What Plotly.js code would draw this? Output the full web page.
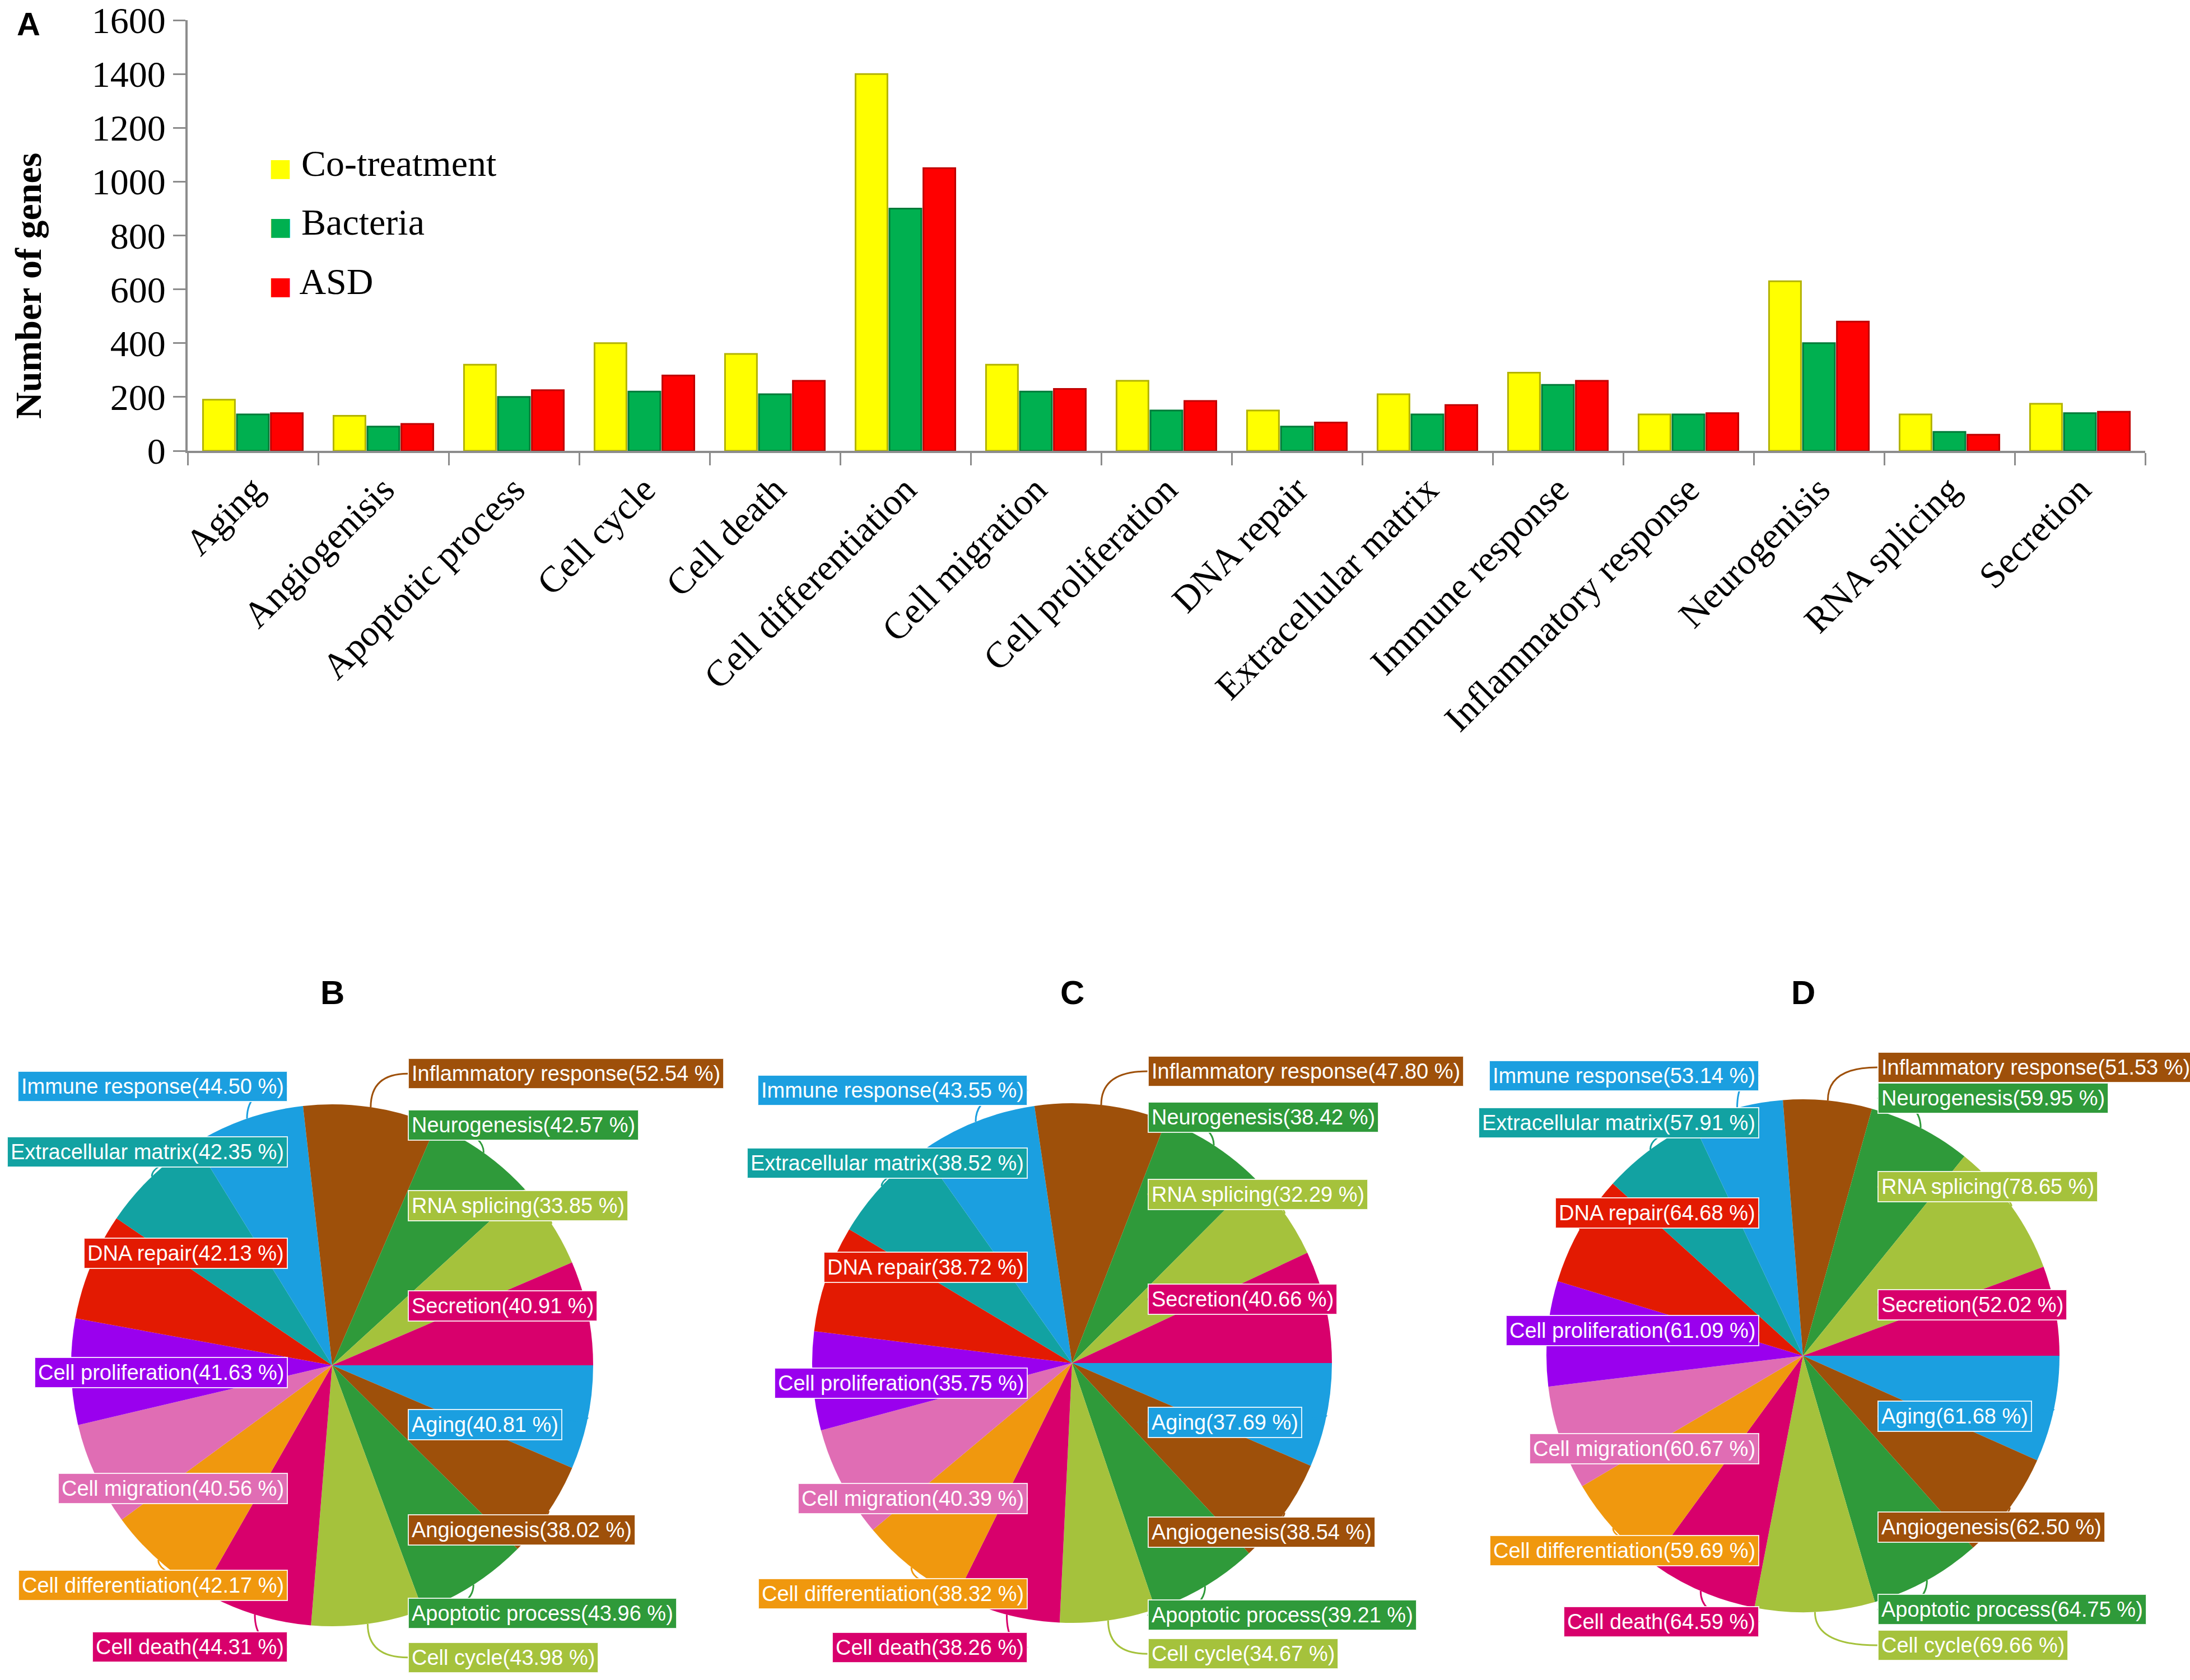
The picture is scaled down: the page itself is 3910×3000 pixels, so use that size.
<!DOCTYPE html>
<html><head><meta charset="utf-8">
<script src="https://cdn.plot.ly/plotly-3.0.1.min.js"></script>
<style>html,body{margin:0;padding:0;background:#fff}#chart{width:3910px;height:3000px}</style>
</head><body><div id="chart"></div>
<script>
// ---------- data ----------
const barCategories = ["Aging","Angiogenisis","Apoptotic process","Cell cycle","Cell death","Cell differentiation","Cell migration","Cell proliferation","DNA repair","Extracellular matrix","Immune response","Inflammatory response","Neurogenisis","RNA splicing","Secretion"];
const coTreatment = [190,130,320,400,360,1400,320,260,150,210,290,135,630,135,175];
const bacteria    = [135, 90,200,220,210, 900,220,150, 90,135,245,135,400, 70,140];
const asd         = [140,100,225,280,260,1050,230,185,105,170,260,140,480, 60,145];
const seriesNames = ["Co-treatment","Bacteria","ASD"];
const yTickVals = [0,200,400,600,800,1000,1200,1400,1600];
const yAxisTitle = "Number of genes";

const pieLabels = ["Aging","Angiogenesis","Apoptotic process","Cell cycle","Cell death","Cell differentiation","Cell migration","Cell proliferation","DNA repair","Extracellular matrix","Immune response","Inflammatory response","Neurogenesis","RNA splicing","Secretion"];
const pieB = [40.81,38.02,43.96,43.98,44.31,42.17,40.56,41.63,42.13,42.35,44.50,52.54,42.57,33.85,40.91];
const pieC = [37.69,38.54,39.21,34.67,38.26,38.32,40.39,35.75,38.72,38.52,43.55,47.80,38.42,32.29,40.66];
const pieD = [61.68,62.50,64.75,69.66,64.59,59.69,60.67,61.09,64.68,57.91,53.14,51.53,59.95,78.65,52.02];
const pieTitles = ["B","C","D"];

// ---------- styles / positions ----------
const W = 3910, H = 3000;
const serif = "Liberation Serif, 'Times New Roman', serif";
const sans = "Liberation Sans, Arial, sans-serif";
const barColors = ["#ffff00","#00b050","#ff0000"];
const barEdges = ["#b3b300","#007a38","#c00000"];
const pieColors = ["#1b9fe0","#9e500a","#2f9a3a","#a5c23c","#d8006c","#f0980e","#e06db4","#9a00ee","#e31a02","#12a2a2",
                   "#1b9fe0","#9e500a","#2f9a3a","#a5c23c","#d8006c"];
const piePanels = [
  {values: pieB, cx: 593,  cy: 2438, R: 466},
  {values: pieC, cx: 1914, cy: 2434, R: 464},
  {values: pieD, cx: 3219, cy: 2421, R: 458}
];
const legendPos = {x: 478, y0: 292, dy: 105};
const px = x => x / W, py = y => 1 - y / H;

const traces = [];
[coTreatment, bacteria, asd].forEach((vals, k) => {
  traces.push({
    type: 'bar', name: seriesNames[k], x: barCategories, y: vals,
    marker: {color: barColors[k], line: {color: barEdges[k], width: 3}},
    xaxis: 'x', yaxis: 'y', showlegend: false
  });
});

const annotations = [];
const shapes = [];

// legend (colour squares + names)
seriesNames.forEach((n, k) => {
  annotations.push({xref: 'paper', yref: 'paper', x: px(legendPos.x), y: py(legendPos.y0 + k * legendPos.dy),
    xanchor: 'left', yanchor: 'middle', showarrow: false,
    text: `<span style="color:${barColors[k]};font-family:DejaVu Sans;font-size:44px">■</span> ${n}`,
    font: {family: serif, size: 66, color: '#000'}});
});

piePanels.forEach((p, k) => {
  traces.push({
    type: 'pie', labels: pieLabels, values: p.values, sort: false,
    direction: 'clockwise', rotation: 90, textinfo: 'none', showlegend: false,
    marker: {colors: pieColors, line: {width: 0}},
    domain: {x: [px(p.cx - p.R), px(p.cx + p.R)], y: [py(p.cy + p.R), py(p.cy - p.R)]},
    hoverinfo: 'label+value'
  });
  const total = p.values.reduce((a, b) => a + b, 0);
  let cum = 0;
  p.values.forEach((v, i) => {
    const th = 2 * Math.PI * (cum + v / 2) / total; cum += v;
    const c = Math.cos(th), s = Math.sin(th);
    const ex = p.cx + p.R * c, ey = p.cy + p.R * s;
    const ly = p.cy + 1.13 * p.R * s;
    const right = c >= 0;
    const lx = right ? p.cx + 0.29 * p.R : p.cx - 0.17 * p.R;
    shapes.push({type: 'path', xref: 'paper', yref: 'paper', layer: 'above',
      path: `M ${px(ex)},${py(ey)} Q ${px(ex)},${py(ly)} ${px(lx)},${py(ly)}`,
      line: {color: pieColors[i], width: 3}});
    annotations.push({xref: 'paper', yref: 'paper', x: px(lx), y: py(ly),
      xanchor: right ? 'left' : 'right', yanchor: 'middle', showarrow: false,
      text: `${pieLabels[i]}(${v.toFixed(2)} %)`, bgcolor: pieColors[i],
      bordercolor: 'rgba(255,255,255,0.85)', borderwidth: 2, borderpad: 5,
      font: {family: sans, size: 38, color: '#ffffff'}});
  });
  annotations.push({xref: 'paper', yref: 'paper', x: px(p.cx), y: py(1772),
    xanchor: 'center', yanchor: 'middle', showarrow: false, text: pieTitles[k],
    font: {family: sans, size: 60, color: '#000', weight: 'bold'}});
});

annotations.push({xref: 'paper', yref: 'paper', x: px(28), y: py(8), xanchor: 'left', yanchor: 'top',
  showarrow: false, text: 'A', font: {family: sans, size: 58, color: '#000', weight: 'bold'}});
annotations.push({xref: 'paper', yref: 'paper', x: px(50), y: py(511), xanchor: 'center', yanchor: 'middle',
  showarrow: false, textangle: -90, text: yAxisTitle,
  font: {family: serif, size: 66, color: '#000', weight: 'bold'}});

const layout = {
  width: W, height: H, autosize: false,
  margin: {l: 0, r: 0, t: 0, b: 0, pad: 0},
  paper_bgcolor: '#ffffff', plot_bgcolor: '#ffffff',
  barmode: 'group', bargap: 0.22, bargroupgap: 0.06,
  font: {family: serif, color: '#000'},
  showlegend: false,
  xaxis: {
    domain: [px(335), px(3830)], anchor: 'y', type: 'category',
    tickangle: -45, tickfont: {family: serif, size: 66, color: '#000'},
    ticks: 'outside', tickson: 'boundaries', ticklen: 22, tickwidth: 3, tickcolor: '#8c8c8c',
    showline: true, linecolor: '#8c8c8c', linewidth: 4, showgrid: false, zeroline: false
  },
  yaxis: {
    domain: [py(805), py(36)], anchor: 'x', range: [0, 1600],
    tickvals: yTickVals, ticktext: yTickVals.map(String), ticklabeloverflow: 'allow',
    tickfont: {family: serif, size: 66, color: '#000'},
    ticks: 'outside', ticklen: 22, tickwidth: 3, tickcolor: '#8c8c8c',
    showline: true, linecolor: '#8c8c8c', linewidth: 4, showgrid: false, zeroline: false
  },
  annotations: annotations,
  shapes: shapes
};

Plotly.newPlot('chart', traces, layout, {staticPlot: true, displayModeBar: false});
</script>
</body></html>
